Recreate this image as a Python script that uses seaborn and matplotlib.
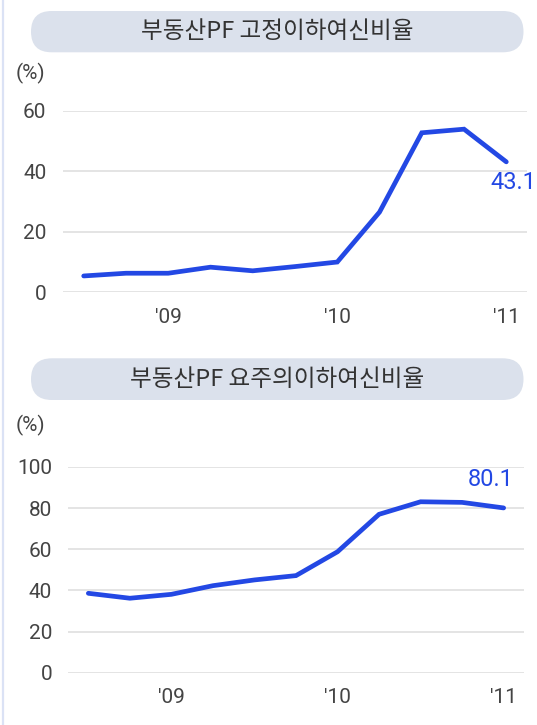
import numpy as np
import pandas as pd
import matplotlib
matplotlib.use("Agg")
import matplotlib.pyplot as plt
from matplotlib.patches import FancyBboxPatch
import seaborn as sns

# ---- data ----
periods = list(range(11))
tick_positions = [2, 6, 10]
tick_labels = ["'09", "'10", "'11"]
fixed_ratio = [5.4, 6.3, 6.3, 8.3, 7.1, 8.5, 10.0, 26.5, 52.7, 53.9, 43.1]
precaution_ratio = [38.6, 36.2, 38.1, 42.3, 45.1, 47.2, 58.8, 77.0, 83.1, 82.8, 80.1]
title_top = "부동산PF 고정이하여신비율"
title_bottom = "부동산PF 요주의이하여신비율"
last_top = "43.1"
last_bottom = "80.1"

sns.set_style("white")
plt.rcParams['font.family'] = ['Roboto', 'Noto Sans CJK KR', 'DejaVu Sans']

W, H = 537, 725
fig = plt.figure(figsize=(W / 100, H / 100), dpi=100)
fig.patch.set_facecolor("white")

LINE = "#2348e4"
GRID = "#dcdcdc"
TICK = "#444444"
TS = 15

# background overlay axes in pixel coords
bg = fig.add_axes([0, 0, 1, 1], zorder=0)
bg.set_xlim(0, W)
bg.set_ylim(H, 0)
bg.axis("off")
bg.plot([2.5, 2.5], [0, H], color="#dbe2f5", lw=1.6)
for (y0, y1, t) in [(11, 52.3, title_top), (358.3, 400, title_bottom)]:
    h = y1 - y0
    bg.add_patch(FancyBboxPatch((31, y0), 523.5 - 31, h,
                                boxstyle=f"round,pad=0,rounding_size={h/2}",
                                fc="#dbe1ec", ec="none"))
    bg.text(277, (y0 + y1) / 2, t, ha="center", va="center", fontsize=17,
            color="#333333", family=["Noto Sans CJK KR", "DejaVu Sans"])
bg.text(30, 73, "(%)", ha="center", va="center", fontsize=TS, color=TICK)
bg.text(30, 425, "(%)", ha="center", va="center", fontsize=TS, color=TICK)


def px_axes(left, right, top, bottom):
    return fig.add_axes([left / W, 1 - bottom / H, (right - left) / W, (bottom - top) / H], zorder=1)


def style(ax, ymax, step, pad_y, pad_x):
    ax.set_facecolor("none")
    ax.set_ylim(0, ymax)
    ax.set_xlim(-0.49, 10.49)
    ax.set_yticks(np.arange(0, ymax + 1, step))
    ax.set_xticks(tick_positions)
    ax.set_xticklabels(tick_labels)
    ax.grid(axis="y", color=GRID, lw=1.1)
    ax.grid(axis="x", visible=False)
    for s in ax.spines.values():
        s.set_visible(False)
    ax.tick_params(axis="y", length=0, pad=pad_y, labelsize=TS, labelcolor=TICK)
    ax.tick_params(axis="x", length=0, pad=pad_x, labelsize=TS, labelcolor=TICK)
    ax.set_xlabel("")
    ax.set_ylabel("")


df_top = pd.DataFrame({"period": periods, "value": fixed_ratio})
df_bot = pd.DataFrame({"period": periods, "value": precaution_ratio})

ax1 = px_axes(63, 527, 110.7, 292.3)
sns.lineplot(data=df_top, x="period", y="value", ax=ax1, color=LINE, lw=3.4,
             clip_on=False, solid_joinstyle="miter")
style(ax1, 60, 20, 12, 11)
ax1.text(9.63, 36.2, last_top, ha="left", va="center", fontsize=17, color=LINE, clip_on=False)

ax2 = px_axes(68, 524, 467, 672.7)
sns.lineplot(data=df_bot, x="period", y="value", ax=ax2, color=LINE, lw=3.4,
             clip_on=False, solid_joinstyle="miter")
style(ax2, 100, 20, 11.5, 11)
ax2.text(9.69, 93.7, last_bottom, ha="center", va="center", fontsize=17, color=LINE, clip_on=False)

fig.savefig("out.png", dpi=100, facecolor="white")
